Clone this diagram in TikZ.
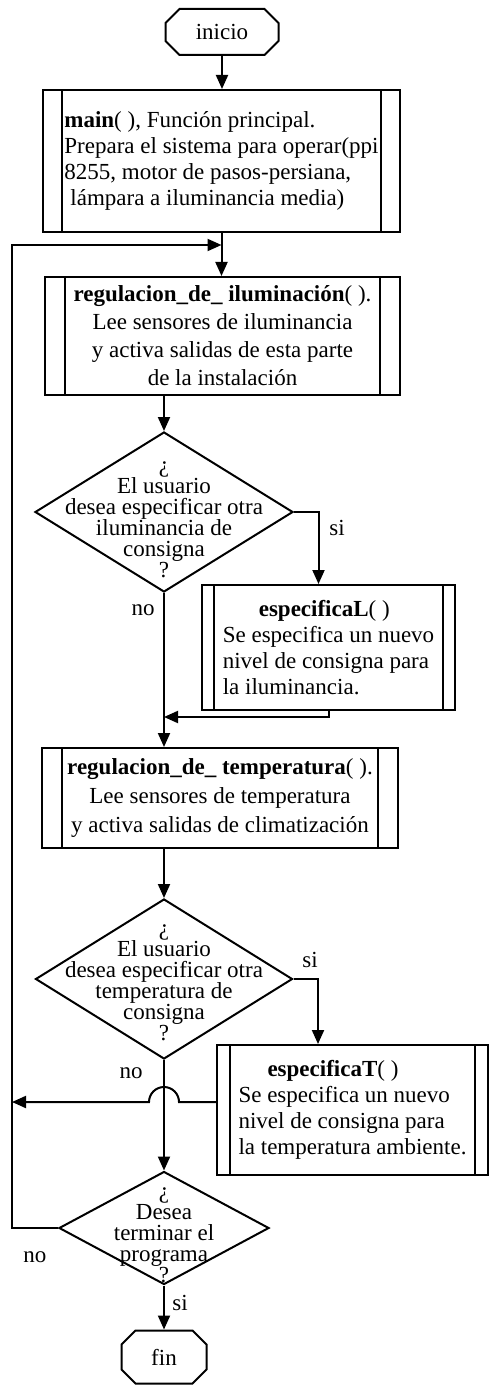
\documentclass[tikz,border=0pt]{standalone}
\usepackage{fontspec}
\setmainfont{Liberation Serif}
\usepackage{tikz}
\usetikzlibrary{arrows.meta, shapes.geometric, shapes.misc}
\tikzset{
  txt/.style = {font=\fontsize{11.5}{13}\selectfont, inner sep=0pt},
  term/.style = {txt, chamfered rectangle, chamfered rectangle xsep=3.5pt,
    chamfered rectangle ysep=3.5pt, draw},
  proc/.style = {txt, rectangle, draw, path picture={
    \draw[-] ([xshift=#1]path picture bounding box.north west)
      -- ([xshift=#1]path picture bounding box.south west)
      ([xshift=-#1]path picture bounding box.north east)
      -- ([xshift=-#1]path picture bounding box.south east);}},
  dec/.style = {diamond, draw, inner sep=0pt},
  dectxt/.style = {txt, align=center, font=\fontsize{11.5}{10.5}\selectfont}
}

\begin{document}
\begin{tikzpicture}[x=0.5pt, y=-0.5pt, line width=1pt, ->, >={Triangle[length=7pt,width=6pt]}]
\useasboundingbox (0,0) rectangle (489,1385);

\node[term, minimum width=56.5pt, minimum height=23pt] (inicio) at (222,32) {inicio};
\node[proc=9.5pt, minimum width=178.5pt, minimum height=71pt, align=left]
  (main) at (221.5,161) {\textbf{main}( ), Función principal.\\Prepara el sistema para operar(ppi\\8255, motor de pasos-persiana,\\\hspace*{3pt}lámpara a iluminancia media)};
\node[proc=10pt, minimum width=177.5pt, minimum height=59pt, align=center,
  font=\fontsize{11.5}{14}\selectfont]
  (regIlum) at (222.5,336) {\textbf{regulacion\_de\_ iluminación}( ).\\Lee sensores de iluminancia\\y activa salidas de esta parte\\de la instalación};
\node[dec, minimum width=129pt, minimum height=80pt] (d1) at (164,512) {};
\node[dectxt, yshift=-4pt] (d1t) at (d1) {¿\\El usuario\\desea especificar otra\\iluminancia de\\consigna\\?};
\node[proc=6pt, minimum width=126.5pt, minimum height=62.5pt, align=left]
  (espL) at (328.5,647.5) {\hspace*{18pt}\textbf{especificaL}( )\\Se especifica un nuevo\\nivel de consigna para\\la iluminancia.};
\node[proc=10pt, minimum width=178pt, minimum height=50pt, align=center,
  font=\fontsize{11.5}{14.5}\selectfont]
  (regTemp) at (220,798) {\textbf{regulacion\_de\_ temperatura}( ).\\Lee sensores de temperatura\\y activa salidas de climatización};
\node[dec, minimum width=128.5pt, minimum height=80pt] (d2) at (164,979) {};
\node[dectxt, yshift=-2pt] (d2t) at (d2) {¿\\El usuario\\desea especificar otra\\temperatura de\\consigna\\?};
\node[proc=6.5pt, minimum width=135.5pt, minimum height=65pt, align=left]
  (espT) at (352.5,1110) {\hspace*{14.5pt}\textbf{especificaT}( )\\Se especifica un nuevo\\nivel de consigna para\\la temperatura ambiente.};
\node[dec, minimum width=105pt, minimum height=56.5pt] (d3) at (164,1228) {};
\node[dectxt, yshift=-3.5pt] (d3t) at (d3) {¿\\Desea\\terminar el\\programa\\?};
\node[term, minimum width=42.5pt, minimum height=26.5pt] (fin) at (164,1357) {fin};

\node[txt] (si1) at (337,528) {si};
\node[txt] (no1) at (143,610) {no};
\node[txt] (si2) at (310,960) {si};
\node[txt] (no2) at (131,1073) {no};
\node[txt] (no3) at (35,1257) {no};
\node[txt] (si3) at (180,1303) {si};

\coordinate (jn) at (221.5,245);
\coordinate (lp) at (12,245);
\coordinate (lret) at (164,717);
\coordinate (jmp) at (164,1102);

\draw (inicio.south) -- (inicio.south |- main.north);
\draw (main.south) -- (main.south |- regIlum.north);
\draw (regIlum.south -| d1.north) -- (d1.north);
\draw (d1.east) -| ([xshift=-5pt]espL.north);
\draw (d1.south) -- (d1.south |- regTemp.north);
\draw (espL.south) |- (lret);
\draw (regTemp.south -| d2.north) -- (d2.north);
\draw (d2.east) -| ([xshift=-17.25pt]espT.north);
\draw (d2.south) -- (d3.north);
\draw ([yshift=4pt]espT.west) -- ([xshift=7.5pt]jmp) arc[start angle=0, end angle=180, radius=7.5pt] -- (lp |- jmp);
\draw (d3.south) -- (fin.north);
\draw (d3.west) -| (lp) -- (jn);
\end{tikzpicture}
\end{document}
